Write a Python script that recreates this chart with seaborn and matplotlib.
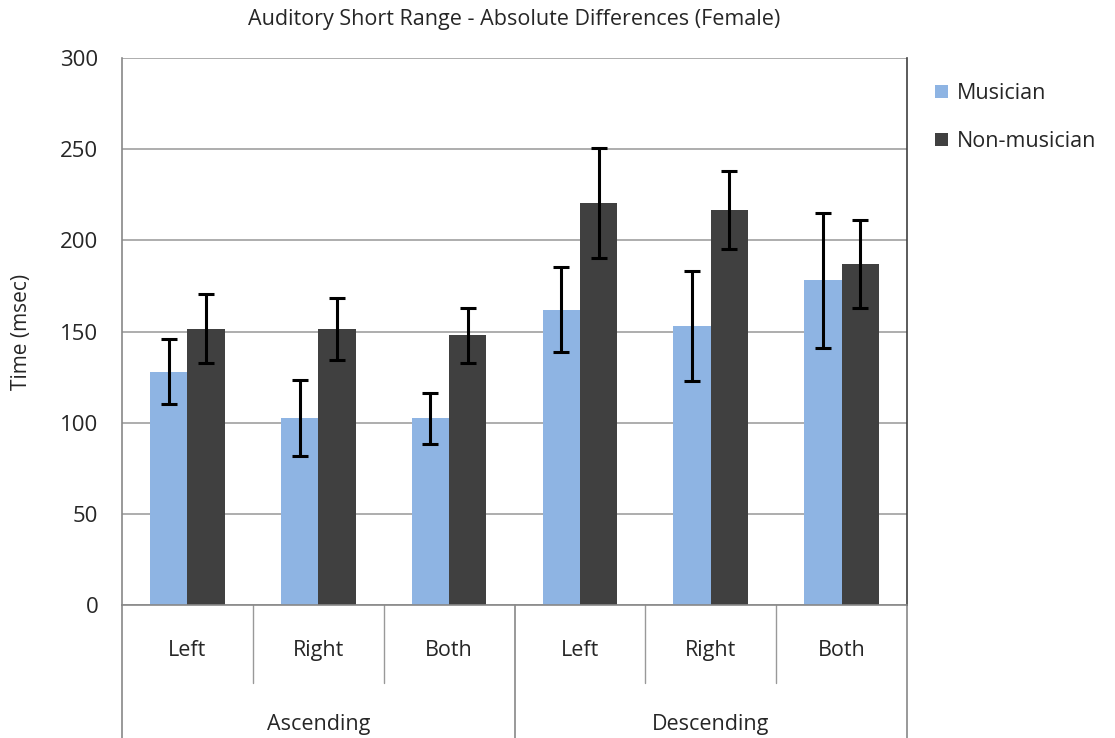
import pandas as pd
import matplotlib.pyplot as plt
import matplotlib.transforms as mtransforms
import seaborn as sns

# Values
directions = ['Ascending', 'Descending']
sides = ['Left', 'Right', 'Both']
musician = [128, 102.5, 102.5, 162, 153, 178]
non_musician = [151.5, 151.5, 148, 220.5, 216.5, 187]
musician_err = [18, 21, 14, 23.5, 30, 37]
non_musician_err = [19, 17, 15, 30, 21.5, 24]

groups = [f'{d}-{s}' for d in directions for s in sides]
df = pd.DataFrame({
    'Group': groups * 2,
    'Time': musician + non_musician,
    'Err': musician_err + non_musician_err,
    'Type': ['Musician'] * 6 + ['Non-musician'] * 6,
})

sns.set_style('white')
plt.rcParams['font.family'] = ['Open Sans', 'DejaVu Sans']

fig = plt.figure(figsize=(11.15, 7.38), dpi=100)
ax = fig.add_axes([0.1094, 0.1802, 0.7041, 0.7412])

palette = {'Musician': '#8EB4E3', 'Non-musician': '#404040'}
sns.barplot(data=df, x='Group', y='Time', hue='Type', order=groups,
            palette=palette, errorbar=None, width=0.57, saturation=1,
            linewidth=0, ax=ax, zorder=2)

# error bars placed on the bar centres
for container, errs in zip(ax.containers, [musician_err, non_musician_err]):
    for bar, e in zip(container, errs):
        cx = bar.get_x() + bar.get_width() / 2
        ax.errorbar(cx, bar.get_height(), yerr=e, fmt='none', ecolor='black',
                    elinewidth=2.2, capsize=6, capthick=2.2, zorder=3)

ax.set_ylim(0, 300)
ax.set_yticks(range(0, 301, 50))
ax.yaxis.grid(True, color='#a0a0a0', linewidth=1.2, zorder=0)
ax.set_axisbelow(True)
ax.set_xlim(-0.5, 5.5)
ax.set_xticks(range(6))
ax.set_xticklabels(sides * 2)
ax.tick_params(axis='x', length=0, pad=25, labelsize=15.5)
ax.tick_params(axis='y', length=0, pad=17, labelsize=16)
ax.set_xlabel('')
ax.set_ylabel('Time (msec)', fontsize=15, labelpad=20)
ax.set_title('Auditory Short Range - Absolute Differences (Female)',
             fontsize=15.5, pad=24)
for side in ['left', 'right', 'bottom']:
    ax.spines[side].set_color('#888888')
    ax.spines[side].set_linewidth(1.2)
ax.spines['top'].set_visible(False)
ax.spines['right'].set_color('#404040')

# hierarchical category axis
trans = mtransforms.blended_transform_factory(ax.transData, ax.transAxes)
for x in [0.5, 1.5, 3.5, 4.5]:
    ax.plot([x, x], [0, -0.143], transform=trans, color='#999999',
            linewidth=1, clip_on=False)
for x in [-0.5, 2.5, 5.5]:
    ax.plot([x, x], [0, -0.25], transform=trans, color='#888888',
            linewidth=1.2, clip_on=False)
for i, d in enumerate(directions):
    ax.text(i * 3 + 1, -0.218, d, transform=trans, ha='center', va='center',
            fontsize=15.5)

ax.legend(loc='upper left', bbox_to_anchor=(1.025, 0.97), frameon=False,
          fontsize=15.5, handlelength=0.6, handleheight=0.6, handletextpad=0.4,
          labelspacing=1.25, borderaxespad=0)

fig.savefig('out.png', dpi=100)
